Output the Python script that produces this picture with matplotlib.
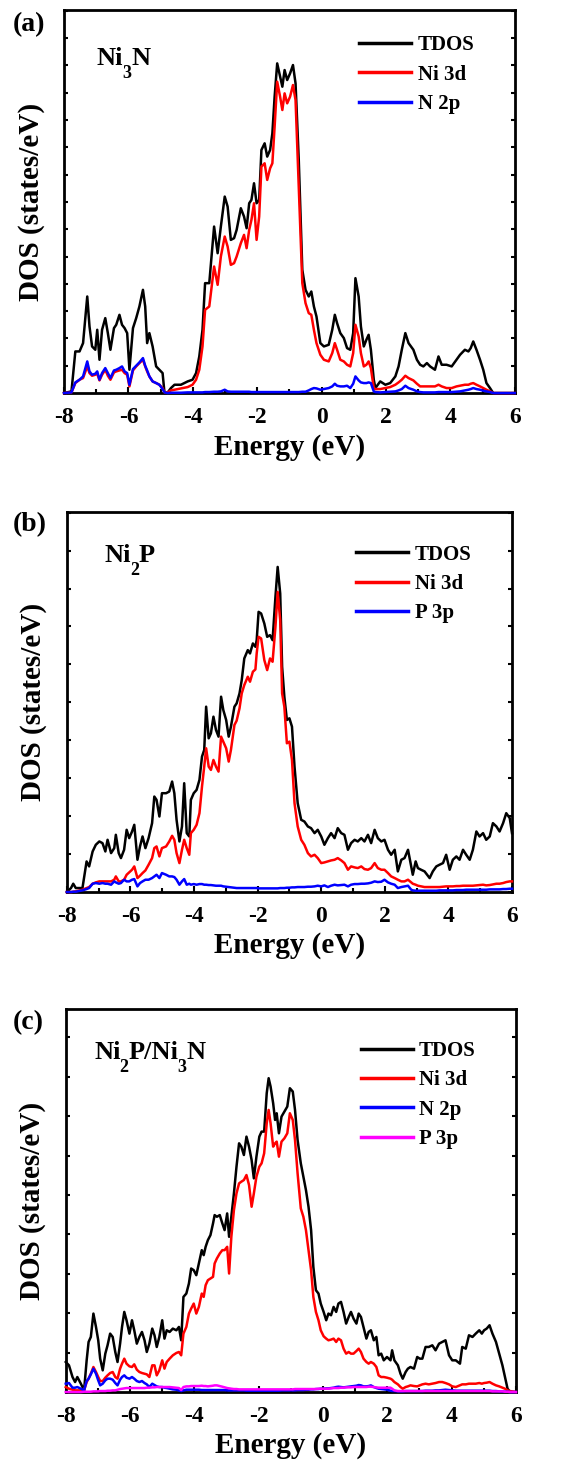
import numpy as np
from matplotlib import pyplot as plt, rcParams
from matplotlib.ticker import MultipleLocator
from matplotlib.transforms import ScaledTranslation

rcParams['font.family'] = ['Liberation Serif', 'DejaVu Serif']   # Times风格字体
rcParams['font.weight'] = 'bold'
rcParams['axes.unicode_minus'] = False                             # 负号用短横线

# ---------------- (a) Ni3N ----------------
energy_a = [-8.00, -7.77, -7.65, -7.52, -7.41, -7.28, -7.21, -7.13, -7.03, -6.97,
            -6.90, -6.82, -6.72, -6.64, -6.56, -6.45, -6.38, -6.28, -6.20, -6.12,
            -6.04, -5.97, -5.86, -5.76, -5.66, -5.55, -5.48, -5.42, -5.35, -5.25,
            -5.14, -5.04, -4.94, -4.88, -4.78, -4.68, -4.57, -4.37, -4.16, -4.01,
            -3.90, -3.80, -3.70, -3.62, -3.49, -3.34, -3.23, -3.13, -3.01, -2.92,
            -2.82, -2.72, -2.64, -2.51, -2.41, -2.33, -2.25, -2.18, -2.10, -2.02,
            -1.94, -1.87, -1.77, -1.69, -1.60, -1.53, -1.46, -1.38, -1.29, -1.22,
            -1.15, -1.07, -0.98, -0.89, -0.81, -0.71, -0.60, -0.50, -0.40, -0.32,
            -0.24, -0.16, -0.04, 0.07, 0.22, 0.33, 0.41, 0.48, 0.58, 0.69,
            0.79, 0.89, 0.98, 1.05, 1.15, 1.22, 1.31, 1.39, 1.46, 1.53,
            1.62, 1.67, 1.82, 1.98, 2.13, 2.29, 2.39, 2.49, 2.60, 2.70,
            2.85, 2.96, 3.06, 3.16, 3.27, 3.37, 3.52, 3.63, 3.73, 3.88,
            4.04, 4.19, 4.30, 4.45, 4.56, 4.63, 4.71, 4.81, 4.92, 5.02,
            5.12, 5.23, 5.33, 6.00]
tdos_a = [0.00, 0.05, 1.25, 1.25, 1.50, 2.90, 2.00, 1.40, 1.30, 1.90,
          1.00, 1.90, 2.25, 1.80, 1.30, 1.95, 2.05, 2.35, 2.05, 1.95,
          1.80, 0.70, 1.95, 2.25, 2.60, 3.10, 2.60, 1.50, 1.80, 1.40,
          0.80, 0.70, 0.60, 0.00, 0.02, 0.15, 0.25, 0.25, 0.35, 0.40,
          0.60, 1.10, 1.90, 3.30, 3.30, 5.00, 4.20, 5.00, 5.90, 5.60,
          4.60, 4.65, 4.90, 5.55, 5.30, 4.95, 5.70, 5.80, 6.30, 5.70,
          5.80, 7.30, 7.50, 7.10, 7.30, 7.80, 8.90, 9.90, 9.50, 9.20,
          9.70, 9.40, 9.60, 9.85, 9.30, 7.00, 3.70, 3.10, 2.90, 3.05,
          2.60, 2.30, 1.50, 1.40, 1.45, 1.90, 2.35, 2.10, 1.80, 1.65,
          1.35, 1.30, 1.80, 3.45, 2.90, 2.00, 1.40, 1.60, 1.75, 1.30,
          0.40, 0.15, 0.35, 0.25, 0.30, 0.50, 0.80, 1.30, 1.80, 1.50,
          1.30, 1.00, 0.85, 0.80, 0.90, 0.80, 0.70, 1.10, 0.85, 0.85,
          0.80, 1.00, 1.15, 1.30, 1.25, 1.35, 1.55, 1.30, 1.00, 0.70,
          0.30, 0.15, 0.00, 0.00]
ni3d_a = [0.00, 0.02, 0.30, 0.40, 0.45, 0.80, 0.60, 0.52, 0.55, 0.58,
          0.38, 0.55, 0.70, 0.52, 0.40, 0.62, 0.65, 0.68, 0.70, 0.60,
          0.55, 0.20, 0.68, 0.80, 0.90, 1.00, 0.80, 0.65, 0.50, 0.35,
          0.30, 0.25, 0.15, 0.02, 0.02, 0.08, 0.10, 0.14, 0.18, 0.25,
          0.40, 0.70, 1.40, 2.50, 2.60, 3.80, 3.25, 4.10, 4.70, 4.40,
          3.85, 3.90, 4.10, 4.50, 4.75, 4.35, 4.90, 5.20, 5.70, 4.60,
          5.30, 6.80, 6.90, 6.40, 6.75, 6.90, 8.00, 9.35, 8.90, 8.50,
          9.00, 8.70, 8.90, 9.25, 8.80, 6.20, 3.30, 2.70, 2.40, 2.35,
          1.90, 1.50, 1.15, 1.00, 0.95, 1.20, 1.50, 1.30, 1.00, 0.95,
          0.85, 0.80, 1.20, 2.05, 1.70, 1.20, 0.80, 0.85, 0.95, 0.75,
          0.15, 0.12, 0.12, 0.15, 0.18, 0.25, 0.32, 0.40, 0.52, 0.45,
          0.38, 0.28, 0.20, 0.20, 0.20, 0.20, 0.20, 0.25, 0.20, 0.15,
          0.15, 0.20, 0.22, 0.25, 0.25, 0.28, 0.30, 0.25, 0.20, 0.15,
          0.10, 0.05, 0.00, 0.00]
n2p_a = [0.00, 0.02, 0.32, 0.40, 0.50, 0.95, 0.65, 0.55, 0.58, 0.65,
         0.40, 0.60, 0.75, 0.60, 0.45, 0.68, 0.70, 0.75, 0.80, 0.65,
         0.60, 0.25, 0.72, 0.82, 0.92, 1.05, 0.82, 0.68, 0.50, 0.35,
         0.30, 0.25, 0.12, 0.02, 0.00, 0.01, 0.01, 0.01, 0.02, 0.02,
         0.02, 0.02, 0.02, 0.03, 0.03, 0.04, 0.04, 0.05, 0.10, 0.05,
         0.04, 0.04, 0.04, 0.04, 0.04, 0.04, 0.04, 0.03, 0.03, 0.03,
         0.03, 0.03, 0.03, 0.03, 0.03, 0.03, 0.03, 0.03, 0.03, 0.03,
         0.03, 0.03, 0.03, 0.03, 0.03, 0.03, 0.04, 0.04, 0.08, 0.12,
         0.15, 0.14, 0.10, 0.12, 0.15, 0.20, 0.28, 0.22, 0.20, 0.20,
         0.22, 0.15, 0.28, 0.50, 0.38, 0.32, 0.30, 0.30, 0.32, 0.30,
         0.05, 0.03, 0.02, 0.03, 0.04, 0.05, 0.08, 0.12, 0.22, 0.15,
         0.10, 0.05, 0.03, 0.02, 0.02, 0.02, 0.02, 0.03, 0.03, 0.03,
         0.03, 0.04, 0.05, 0.08, 0.10, 0.12, 0.15, 0.12, 0.10, 0.07,
         0.05, 0.03, 0.00, 0.00]

# ---------------- (b) Ni2P ----------------
energy_b = [-8.00, -7.87, -7.80, -7.72, -7.51, -7.38, -7.30, -7.19, -7.09, -6.98,
            -6.88, -6.79, -6.72, -6.61, -6.51, -6.46, -6.37, -6.30, -6.20, -6.12,
            -6.04, -5.95, -5.88, -5.78, -5.70, -5.62, -5.53, -5.43, -5.32, -5.25,
            -5.18, -5.09, -5.01, -4.88, -4.78, -4.69, -4.62, -4.55, -4.46, -4.38,
            -4.31, -4.23, -4.15, -4.10, -4.01, -3.92, -3.83, -3.75, -3.68, -3.62,
            -3.54, -3.47, -3.39, -3.31, -3.23, -3.15, -3.08, -2.99, -2.91, -2.84,
            -2.73, -2.66, -2.57, -2.50, -2.42, -2.31, -2.24, -2.15, -2.07, -2.03,
            -1.97, -1.89, -1.79, -1.70, -1.61, -1.53, -1.44, -1.37, -1.29, -1.23,
            -1.16, -1.08, -1.00, -0.92, -0.84, -0.74, -0.63, -0.53, -0.42, -0.32,
            -0.21, -0.11, 0.00, 0.10, 0.21, 0.31, 0.42, 0.52, 0.63, 0.73,
            0.84, 0.94, 1.05, 1.15, 1.26, 1.36, 1.47, 1.57, 1.68, 1.78,
            1.89, 1.99, 2.10, 2.20, 2.31, 2.41, 2.52, 2.62, 2.73, 2.83,
            2.88, 2.97, 3.04, 3.14, 3.25, 3.41, 3.51, 3.62, 3.72, 3.83,
            3.93, 4.04, 4.14, 4.25, 4.35, 4.46, 4.56, 4.67, 4.77, 4.88,
            4.98, 5.09, 5.19, 5.30, 5.40, 5.51, 5.61, 5.72, 5.82, 5.93,
            6.00]
tdos_b = [0.00, 0.12, 0.25, 0.12, 0.12, 0.92, 0.77, 1.22, 1.42, 1.52,
          1.47, 1.22, 1.57, 1.17, 1.32, 1.72, 1.17, 1.02, 1.27, 1.87,
          1.62, 1.82, 2.02, 0.97, 1.37, 1.67, 1.32, 1.62, 2.07, 2.87,
          2.77, 2.27, 2.97, 2.97, 3.02, 3.32, 2.97, 2.17, 1.52, 1.97,
          3.27, 1.77, 1.67, 2.77, 2.97, 3.07, 3.37, 4.07, 4.27, 5.57,
          4.62, 4.77, 5.27, 4.87, 4.67, 5.87, 5.47, 5.17, 4.67, 4.97,
          5.57, 5.67, 5.97, 6.37, 7.02, 7.27, 7.17, 7.47, 7.37, 7.57,
          8.42, 8.37, 8.07, 7.67, 7.72, 7.57, 8.87, 9.77, 8.97, 6.77,
          5.87, 5.17, 5.22, 4.97, 3.77, 2.67, 2.17, 2.12, 1.97, 1.92,
          1.77, 1.87, 1.67, 1.42, 1.62, 1.77, 1.62, 1.92, 1.77, 1.72,
          1.27, 1.47, 1.57, 1.52, 1.62, 1.52, 1.72, 1.47, 1.87, 1.62,
          1.52, 1.57, 1.27, 1.12, 1.27, 0.62, 0.97, 1.02, 1.27, 0.77,
          0.52, 0.92, 0.72, 0.67, 0.62, 0.42, 0.62, 0.77, 0.82, 0.87,
          1.12, 0.67, 0.97, 1.07, 0.97, 1.27, 1.12, 0.97, 1.27, 1.82,
          1.67, 1.77, 1.57, 1.67, 2.07, 1.97, 1.82, 2.07, 2.37, 2.22,
          1.77]
ni3d_b = [0.00, 0.00, 0.01, 0.02, 0.07, 0.12, 0.15, 0.25, 0.29, 0.32,
          0.32, 0.32, 0.32, 0.32, 0.37, 0.47, 0.32, 0.32, 0.37, 0.52,
          0.59, 0.67, 0.77, 0.42, 0.49, 0.57, 0.65, 0.82, 1.02, 1.32,
          1.37, 1.07, 1.32, 1.37, 1.52, 1.69, 1.57, 1.17, 0.87, 1.27,
          1.57, 1.32, 1.12, 1.77, 1.87, 2.02, 2.37, 3.17, 3.77, 4.32,
          3.77, 3.67, 3.97, 3.77, 3.62, 4.67, 4.52, 4.32, 3.92, 4.27,
          5.02, 5.15, 5.52, 5.97, 6.22, 6.47, 6.32, 6.62, 6.69, 7.17,
          7.67, 7.62, 6.97, 6.67, 7.02, 6.92, 7.97, 9.02, 8.17, 5.97,
          5.57, 4.47, 4.52, 3.97, 2.67, 1.97, 1.57, 1.42, 1.17, 1.07,
          1.12, 1.02, 0.87, 0.89, 0.92, 0.95, 0.97, 1.02, 0.95, 0.87,
          0.67, 0.77, 0.74, 0.72, 0.77, 0.69, 0.67, 0.72, 0.87, 0.72,
          0.67, 0.67, 0.57, 0.47, 0.42, 0.37, 0.32, 0.32, 0.37, 0.29,
          0.25, 0.22, 0.19, 0.17, 0.15, 0.15, 0.15, 0.15, 0.15, 0.16,
          0.17, 0.17, 0.17, 0.18, 0.18, 0.19, 0.19, 0.19, 0.19, 0.20,
          0.21, 0.22, 0.20, 0.21, 0.23, 0.25, 0.25, 0.27, 0.30, 0.32,
          0.32]
p3p_b = [0.00, 0.00, 0.01, 0.01, 0.05, 0.09, 0.12, 0.25, 0.27, 0.25,
         0.27, 0.25, 0.25, 0.22, 0.32, 0.29, 0.25, 0.27, 0.37, 0.32,
         0.32, 0.37, 0.39, 0.17, 0.27, 0.32, 0.37, 0.37, 0.42, 0.47,
         0.52, 0.42, 0.57, 0.52, 0.47, 0.47, 0.45, 0.37, 0.22, 0.32,
         0.39, 0.22, 0.25, 0.22, 0.24, 0.22, 0.24, 0.24, 0.22, 0.22,
         0.21, 0.21, 0.20, 0.19, 0.19, 0.19, 0.17, 0.16, 0.15, 0.14,
         0.13, 0.12, 0.12, 0.12, 0.12, 0.12, 0.12, 0.12, 0.12, 0.12,
         0.11, 0.11, 0.11, 0.11, 0.11, 0.11, 0.11, 0.11, 0.12, 0.12,
         0.12, 0.13, 0.13, 0.14, 0.14, 0.15, 0.15, 0.15, 0.16, 0.16,
         0.17, 0.19, 0.17, 0.20, 0.15, 0.19, 0.22, 0.20, 0.21, 0.22,
         0.17, 0.22, 0.24, 0.24, 0.25, 0.25, 0.26, 0.28, 0.32, 0.30,
         0.31, 0.37, 0.29, 0.25, 0.22, 0.12, 0.15, 0.17, 0.19, 0.07,
         0.05, 0.04, 0.04, 0.04, 0.04, 0.04, 0.04, 0.04, 0.05, 0.05,
         0.05, 0.05, 0.05, 0.06, 0.06, 0.06, 0.07, 0.07, 0.07, 0.07,
         0.07, 0.07, 0.07, 0.08, 0.08, 0.08, 0.08, 0.09, 0.09, 0.10,
         0.10]

# ---------------- (c) Ni2P/Ni3N ----------------
energy_c = [-8.00, -7.90, -7.79, -7.71, -7.64, -7.53, -7.43, -7.35, -7.29, -7.22,
            -7.14, -7.06, -6.99, -6.93, -6.85, -6.77, -6.70, -6.62, -6.54, -6.46,
            -6.39, -6.31, -6.25, -6.18, -6.11, -6.02, -5.94, -5.87, -5.79, -5.71,
            -5.63, -5.55, -5.48, -5.40, -5.31, -5.24, -5.17, -5.09, -5.00, -4.93,
            -4.86, -4.77, -4.67, -4.56, -4.48, -4.41, -4.34, -4.25, -4.17, -4.10,
            -4.02, -3.94, -3.86, -3.77, -3.71, -3.65, -3.58, -3.50, -3.42, -3.37,
            -3.30, -3.21, -3.13, -3.06, -2.98, -2.92, -2.85, -2.77, -2.69, -2.61,
            -2.54, -2.46, -2.38, -2.30, -2.22, -2.15, -2.07, -1.98, -1.91, -1.83,
            -1.75, -1.69, -1.63, -1.55, -1.49, -1.44, -1.37, -1.29, -1.20, -1.11,
            -1.03, -0.94, -0.87, -0.79, -0.69, -0.61, -0.53, -0.45, -0.37, -0.30,
            -0.22, -0.14, -0.07, 0.02, 0.10, 0.17, 0.25, 0.33, 0.41, 0.48,
            0.56, 0.64, 0.72, 0.80, 0.87, 0.95, 1.04, 1.11, 1.18, 1.26,
            1.35, 1.42, 1.49, 1.58, 1.66, 1.73, 1.81, 1.89, 1.99, 2.10,
            2.15, 2.22, 2.33, 2.41, 2.48, 2.57, 2.64, 2.72, 2.83, 2.93,
            3.01, 3.09, 3.19, 3.29, 3.40, 3.50, 3.61, 3.71, 3.81, 3.92,
            4.02, 4.13, 4.26, 4.33, 4.44, 4.54, 4.65, 4.75, 4.86, 4.94,
            5.01, 5.09, 5.18, 5.27, 5.38, 5.48, 5.58, 5.66, 5.74, 5.82,
            6.00]
tdos_c = [0.90, 0.80, 0.45, 0.30, 0.45, 0.25, 0.05, 0.95, 1.50, 1.65,
          2.35, 1.95, 1.55, 1.00, 0.65, 1.15, 1.40, 1.75, 1.65, 1.20,
          0.90, 1.45, 1.95, 2.40, 2.15, 1.75, 2.15, 1.85, 1.45, 1.65,
          1.80, 1.55, 1.20, 1.45, 1.90, 1.70, 1.35, 1.65, 2.15, 1.60,
          1.85, 1.80, 1.90, 1.85, 1.95, 1.55, 2.85, 2.95, 3.25, 3.70,
          3.65, 3.50, 3.85, 4.25, 4.10, 4.35, 4.55, 4.70, 5.05, 5.30,
          5.25, 5.30, 5.05, 4.85, 5.35, 4.65, 5.25, 5.95, 6.75, 7.45,
          7.35, 7.10, 7.65, 7.35, 6.95, 6.40, 7.05, 7.65, 7.80, 7.80,
          8.95, 9.40, 9.15, 8.65, 8.15, 8.35, 7.75, 8.25, 8.40, 8.55,
          9.10, 9.00, 8.45, 7.55, 6.85, 6.45, 6.05, 5.55, 4.85, 3.75,
          3.05, 2.95, 2.65, 2.40, 2.15, 2.35, 2.30, 2.55, 2.40, 2.65,
          2.70, 2.40, 2.05, 2.25, 2.40, 2.20, 2.05, 2.35, 2.25, 1.95,
          1.60, 1.80, 1.85, 1.55, 1.65, 1.10, 1.15, 0.95, 1.05, 0.95,
          1.25, 0.95, 0.80, 0.55, 0.40, 0.60, 0.70, 0.75, 0.70, 1.05,
          1.00, 1.00, 1.35, 1.35, 1.40, 1.25, 1.45, 1.50, 1.55, 1.10,
          0.95, 0.95, 0.85, 1.35, 1.30, 1.70, 1.65, 1.75, 1.85, 1.75,
          1.85, 1.90, 2.00, 1.75, 1.50, 1.15, 0.80, 0.45, 0.10, 0.00,
          0.00]
ni3d_c = [0.15, 0.10, 0.07, 0.05, 0.05, 0.05, 0.05, 0.30, 0.40, 0.55,
          0.75, 0.60, 0.45, 0.33, 0.33, 0.43, 0.50, 0.57, 0.60, 0.45,
          0.40, 0.70, 0.85, 1.00, 0.85, 0.77, 0.75, 0.83, 0.67, 0.60,
          0.57, 0.55, 0.53, 0.45, 0.80, 0.80, 0.50, 0.65, 0.95, 0.70,
          0.90, 1.00, 1.10, 1.17, 1.20, 1.10, 1.75, 1.95, 2.35, 2.50,
          2.65, 2.35, 2.55, 2.95, 2.85, 3.20, 3.35, 3.40, 3.45, 3.85,
          4.00, 4.15, 4.25, 4.25, 4.35, 3.55, 4.65, 5.45, 5.95, 6.25,
          6.30, 6.35, 6.50, 6.20, 5.55, 5.95, 6.45, 6.75, 6.85, 7.15,
          8.05, 8.45, 8.05, 7.35, 7.45, 7.50, 7.05, 7.50, 7.60, 7.75,
          8.35, 8.15, 7.55, 6.55, 5.50, 5.25, 4.85, 4.25, 3.65, 2.85,
          2.40, 2.15, 1.85, 1.67, 1.60, 1.55, 1.57, 1.60, 1.50, 1.60,
          1.55, 1.30, 1.15, 1.20, 1.15, 1.15, 1.23, 1.30, 1.20, 1.00,
          0.90, 0.85, 0.90, 0.85, 0.75, 0.50, 0.45, 0.45, 0.43, 0.40,
          0.37, 0.30, 0.23, 0.15, 0.10, 0.15, 0.17, 0.20, 0.18, 0.17,
          0.20, 0.23, 0.25, 0.23, 0.25, 0.27, 0.30, 0.30, 0.27, 0.23,
          0.17, 0.15, 0.20, 0.23, 0.23, 0.25, 0.25, 0.25, 0.27, 0.25,
          0.27, 0.28, 0.30, 0.25, 0.20, 0.17, 0.13, 0.10, 0.05, 0.03,
          0.00]
n2p_c = [0.25, 0.27, 0.13, 0.13, 0.15, 0.10, 0.05, 0.33, 0.40, 0.53,
         0.70, 0.55, 0.35, 0.20, 0.25, 0.35, 0.40, 0.40, 0.37, 0.27,
         0.20, 0.37, 0.45, 0.50, 0.43, 0.40, 0.45, 0.40, 0.33, 0.30,
         0.33, 0.27, 0.23, 0.15, 0.25, 0.21, 0.17, 0.15, 0.15, 0.13,
         0.12, 0.10, 0.08, 0.07, 0.05, 0.03, 0.05, 0.07, 0.07, 0.07,
         0.07, 0.07, 0.07, 0.06, 0.06, 0.06, 0.06, 0.06, 0.06, 0.06,
         0.06, 0.06, 0.06, 0.06, 0.05, 0.05, 0.05, 0.05, 0.05, 0.05,
         0.05, 0.05, 0.04, 0.04, 0.04, 0.04, 0.04, 0.04, 0.04, 0.04,
         0.04, 0.04, 0.04, 0.04, 0.04, 0.04, 0.04, 0.05, 0.05, 0.05,
         0.05, 0.05, 0.05, 0.06, 0.06, 0.06, 0.07, 0.07, 0.08, 0.08,
         0.09, 0.09, 0.10, 0.10, 0.11, 0.11, 0.12, 0.13, 0.15, 0.16,
         0.15, 0.14, 0.15, 0.16, 0.17, 0.18, 0.19, 0.21, 0.20, 0.17,
         0.17, 0.18, 0.20, 0.15, 0.12, 0.10, 0.09, 0.08, 0.07, 0.04,
         0.03, 0.03, 0.02, 0.02, 0.02, 0.03, 0.03, 0.03, 0.03, 0.03,
         0.03, 0.03, 0.04, 0.04, 0.04, 0.05, 0.05, 0.06, 0.07, 0.06,
         0.05, 0.04, 0.04, 0.04, 0.04, 0.04, 0.04, 0.04, 0.04, 0.04,
         0.04, 0.04, 0.04, 0.03, 0.03, 0.02, 0.02, 0.01, 0.01, 0.00,
         0.00]
p3p_c = [0.00, 0.00, 0.00, 0.00, 0.00, 0.00, 0.01, 0.01, 0.01, 0.01,
         0.02, 0.02, 0.02, 0.03, 0.03, 0.03, 0.04, 0.04, 0.05, 0.05,
         0.07, 0.09, 0.10, 0.11, 0.12, 0.12, 0.12, 0.12, 0.12, 0.12,
         0.12, 0.12, 0.13, 0.13, 0.14, 0.14, 0.15, 0.15, 0.15, 0.15,
         0.15, 0.15, 0.14, 0.13, 0.12, 0.06, 0.15, 0.17, 0.17, 0.18,
         0.18, 0.18, 0.18, 0.19, 0.18, 0.18, 0.17, 0.18, 0.19, 0.20,
         0.20, 0.18, 0.16, 0.14, 0.12, 0.11, 0.10, 0.09, 0.09, 0.08,
         0.08, 0.08, 0.08, 0.08, 0.08, 0.08, 0.08, 0.08, 0.08, 0.08,
         0.08, 0.08, 0.08, 0.08, 0.08, 0.08, 0.08, 0.08, 0.08, 0.08,
         0.08, 0.08, 0.09, 0.09, 0.09, 0.09, 0.09, 0.09, 0.09, 0.09,
         0.09, 0.10, 0.10, 0.10, 0.10, 0.10, 0.11, 0.12, 0.12, 0.12,
         0.13, 0.13, 0.14, 0.14, 0.14, 0.15, 0.15, 0.15, 0.15, 0.15,
         0.15, 0.16, 0.16, 0.15, 0.14, 0.13, 0.13, 0.13, 0.13, 0.13,
         0.10, 0.05, 0.03, 0.03, 0.03, 0.03, 0.03, 0.03, 0.03, 0.03,
         0.03, 0.03, 0.03, 0.03, 0.03, 0.03, 0.03, 0.03, 0.03, 0.03,
         0.03, 0.03, 0.03, 0.03, 0.03, 0.03, 0.03, 0.03, 0.03, 0.03,
         0.03, 0.03, 0.03, 0.02, 0.02, 0.02, 0.02, 0.01, 0.01, 0.00,
         0.00]

# 化学式: (文字, 是否下标)
name_a = [('Ni', False), ('3', True), ('N', False)]
name_b = [('Ni', False), ('2', True), ('P', False)]
name_c = [('Ni', False), ('2', True), ('P/Ni', False), ('3', True), ('N', False)]

# 每个子图: (能量, [(曲线, 颜色, 图例)], 化学式, 面板标记, y上限, y刻度间隔, 坐标轴位置, 图例锚点, 化学式位置, 标记高度)
panels = [
    (energy_a, [(tdos_a, 'black', 'TDOS'), (ni3d_a, 'red', 'Ni 3d'), (n2p_a, 'blue', 'N 2p')],
     name_a, '(a)', 11.5, 0.82, [0.114, 0.7317, 0.802, 0.2614], (0.655, 0.934), (0.073, 0.856), 0.983),
    (energy_b, [(tdos_b, 'black', 'TDOS'), (ni3d_b, 'red', 'Ni 3d'), (p3p_b, 'blue', 'P 3p')],
     name_b, '(b)', 11.42, 1.14, [0.119, 0.3911, 0.792, 0.2594], (0.650, 0.914), (0.085, 0.868), 0.6416),
    (energy_c, [(tdos_c, 'black', 'TDOS'), (ni3d_c, 'red', 'Ni 3d'), (n2p_c, 'blue', 'N 2p'),
                (p3p_c, '#ff00ff', 'P 3p')],
     name_c, '(c)', 11.47, 1.18, [0.117, 0.0498, 0.801, 0.2614], (0.655, 0.917), (0.064, 0.869), 0.3017),
]

fig = plt.figure(figsize=(5.62, 14.65), dpi=100)
renderer = fig.canvas.get_renderer()


def chem_label(ax, x, y, parts, size=19, sub_size=13, sub_drop=9.5):
    """逐段写化学式, 下标缩小并整体下沉到基线以下"""
    dx = 0.0
    for text, is_sub in parts:
        if is_sub:
            dx -= 1.0
        offset = ScaledTranslation(dx / 72, (-sub_drop if is_sub else 0) / 72, fig.dpi_scale_trans)
        t = ax.text(x, y, text, transform=ax.transAxes + offset,
                    fontsize=sub_size if is_sub else size, va='baseline', ha='left')
        dx += t.get_window_extent(renderer).width * 72 / fig.dpi


for energy, curves, name, tag, ytop, ystep, rect, leg_xy, name_xy, tag_y in panels:
    ax = fig.add_axes(rect)
    for dos, color, label in curves:
        ax.plot(energy, dos, color=color, linewidth=1.8, label=label, zorder=3, clip_on=False)

    ax.set_xlim(-8, 6)
    ax.set_ylim(0, ytop)
    ax.xaxis.set_major_locator(MultipleLocator(2))
    ax.xaxis.set_minor_locator(MultipleLocator(1))
    ax.yaxis.set_major_locator(MultipleLocator(ystep))
    ax.tick_params(axis='x', which='both', direction='in', labelsize=17, pad=10)
    ax.tick_params(axis='x', which='major', length=4, width=1.5)
    ax.tick_params(axis='x', which='minor', length=3, width=1.5)
    ax.tick_params(axis='y', direction='in', length=3, width=1.5, left=True, right=True, labelleft=False)
    for s in ax.spines.values():
        s.set_linewidth(2)

    ax.set_xlabel('Energy (eV)', fontsize=21, fontweight='bold', labelpad=4)
    ax.set_ylabel('DOS (states/eV)', fontsize=21, fontweight='bold', labelpad=14)

    chem_label(ax, name_xy[0], name_xy[1], name)
    ax.legend(loc='upper left', bbox_to_anchor=leg_xy, frameon=False, fontsize=15,
              handlelength=2.5, handletextpad=0.3, labelspacing=0.45,
              borderpad=0, borderaxespad=0)
    for line in ax.get_legend().get_lines():
        line.set_linewidth(2.5)

    fig.text(0.022, tag_y, tag, fontsize=20, fontweight='bold', va='center', ha='left')

plt.savefig('out.png', dpi=100)
